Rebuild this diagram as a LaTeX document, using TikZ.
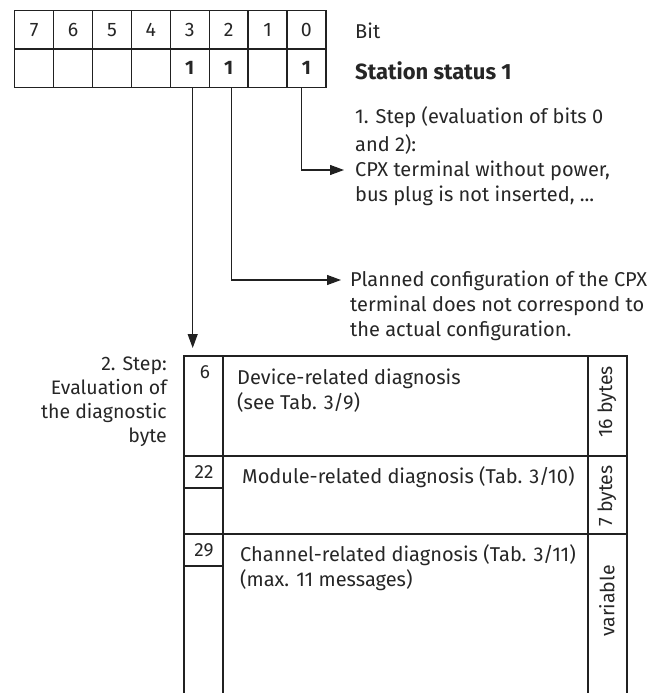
\documentclass[tikz,border=0pt]{standalone}
\usepackage{fontspec}
\setmainfont{Fira Sans}
\usetikzlibrary{arrows.meta,calc}
\definecolor{ln}{gray}{0.13}
\definecolor{txt}{gray}{0.15}
\begin{document}
\begin{tikzpicture}[x=1pt,y=-1pt,
  every node/.style={inner sep=0pt,text=txt},
  cell/.style={draw=ln,line width=1.3pt,minimum width=38.9pt,minimum height=38.5pt,anchor=north west,font=\fontsize{19.5}{22}\selectfont},
  lbl/.style={anchor=north west,align=left,font=\fontsize{20}{25}\selectfont},
  lblr/.style={anchor=north east,align=right,font=\fontsize{19.5}{24}\selectfont},
  num/.style={font=\fontsize{19}{22}\selectfont},
  side/.style={rotate=90,font=\fontsize{19.5}{22}\selectfont},
  arr/.style={draw=ln,line width=1.1pt,-{Triangle[length=14pt,width=10pt]}},
  frame/.style={draw=ln,line width=1.6pt},
]
\useasboundingbox (0,0) rectangle (649,693);

% bit table
\foreach \i/\b in {0/7,1/6,2/5,3/4,4/3,5/2,6/1,7/0}{
  \node[cell] (t\b) at ({14+38.9*\i},10) {\b};
}
\foreach \i/\b/\v in {0/7/,1/6/,2/5/,3/4/,4/3/1,5/2/1,6/1/,7/0/1}{
  \node[cell,font=\fontsize{19.5}{22}\selectfont\bfseries] (s\b) at ({14+38.9*\i},48.5) {\v};
}

% right labels
\node[lbl] (bit) at (355,20.5) {\strut Bit};
\node[lbl,font=\fontsize{22}{25}\selectfont\bfseries] (station) at (355,61) {\strut Station status 1};
\node[lbl,font=\fontsize{20}{28}\selectfont] (step1) at (355,103.5) {\strut 1. Step (evaluation of bits 0\\and 2):};
\node[lbl] (cpx) at (355,158.5) {\strut CPX terminal without power,\\bus plug is not inserted, ...};
\node[lbl] (planned) at (350,268.5) {\strut Planned configuration of the CPX\\terminal does not correspond to\\the actual configuration.};

% diagnostic box
\node[minimum width=443pt,minimum height=100pt,anchor=north west] (row1) at (184,356) {};
\draw[frame] (184,693) -- (184,356) -- (627,356) -- (627,693);
\draw[frame] (223,356) -- (223,693);
\draw[frame] (588,356) -- (588,693);
\draw[frame] (184,456) -- (627,456);
\draw[frame] (184,534) -- (627,534);
\draw[frame] (184,488) -- (223,488);
\draw[frame] (184,566) -- (223,566);

\node[num] (n6) at (205,372) {6};
\node[num] (n22) at (204,472) {22};
\node[num] (n29) at (204,550) {29};

\node[lbl] (dev) at (237,366.5) {\strut Device-related diagnosis\\(see Tab. 3/9)};
\node[lbl] (mod) at (242,465.5) {\strut Module-related diagnosis (Tab. 3/10)};
\node[lbl] (chan) at (240,543.5) {\strut Channel-related diagnosis (Tab. 3/11)\\(max. 11 messages)};

\node[side] (by16) at (607,402) {16 bytes};
\node[side] (by7) at (607,496) {7 bytes};
\node[side] (var) at (607,601) {variable};

\node[lblr] (step2) at (167,353) {\strut 2. Step:\\Evaluation of\\the diagnostic\\byte};

% connectors
\draw[arr,shorten >=11pt] ([xshift=-5pt]s0.south) |- ([yshift=-11.5pt]cpx.north west);
\draw[arr,shorten >=9pt] ([xshift=3pt]s2.south) |- ([yshift=-11.5pt]planned.north west);
\draw[arr,shorten >=8pt] ([xshift=3pt]s3.south) -- ([xshift=3pt]s3.south |- row1.north);
\end{tikzpicture}
\end{document}
